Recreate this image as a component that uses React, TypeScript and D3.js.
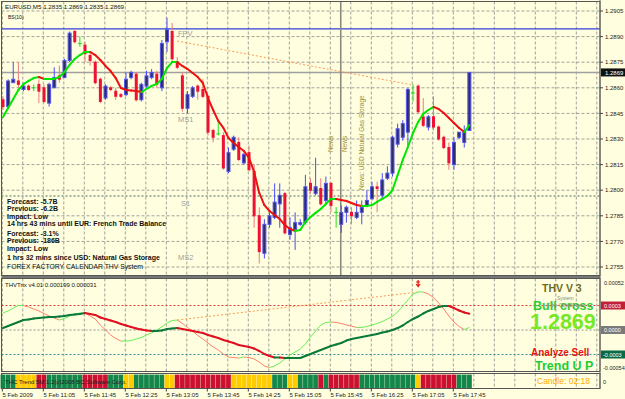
import React, { useEffect } from 'react';
import * as d3 from 'd3';

// ---------- DATA ----------
const timeLabels = ['5 Feb 2009', '5 Feb 11:05', '5 Feb 11:45', '5 Feb 12:25', '5 Feb 13:05', '5 Feb 13:45', '5 Feb 14:25', '5 Feb 15:05', '5 Feb 15:45', '5 Feb 16:25', '5 Feb 17:05', '5 Feb 17:45'];
const timeLabelBars = [0, 8, 16, 24, 32, 40, 48, 56, 64, 72, 80, 88];

const priceTicks = [1.2905, 1.2890, 1.2875, 1.2860, 1.2845, 1.2830, 1.2815, 1.2800, 1.2785, 1.2770, 1.2755];

const open = [1.2853, 1.2849, 1.2863, 1.2864, 1.2859, 1.2861, 1.2860, 1.2862, 1.2860, 1.2851, 1.2860, 1.2867, 1.2866, 1.2876, 1.2893, 1.2886, 1.2885, 1.2879, 1.2875, 1.2865, 1.2854, 1.2860, 1.2858, 1.2856, 1.2856, 1.2866, 1.2868, 1.2853, 1.2861, 1.2866, 1.2868, 1.2860, 1.2887, 1.2893, 1.2875, 1.2867, 1.2848, 1.2855, 1.2861, 1.2859, 1.2855, 1.2835, 1.2833, 1.2832, 1.2811, 1.2824, 1.2828, 1.2816, 1.2822, 1.2811, 1.2785, 1.2763, 1.2780, 1.2784, 1.2792, 1.2798, 1.2774, 1.2777, 1.2780, 1.2781, 1.2804, 1.2798, 1.2801, 1.2794, 1.2804, 1.2787, 1.2780, 1.2787, 1.2787, 1.2784, 1.2787, 1.2791, 1.2795, 1.2802, 1.2797, 1.2807, 1.2810, 1.2827, 1.2831, 1.2834, 1.2857, 1.2861, 1.2843, 1.2837, 1.2843, 1.2837, 1.2831, 1.2825, 1.2815, 1.2831, 1.2828, 1.2835];
const high = [1.2855, 1.2865, 1.2875, 1.2875, 1.2863, 1.2862, 1.2862, 1.2865, 1.2862, 1.2863, 1.2872, 1.2873, 1.2877, 1.2893, 1.2894, 1.2890, 1.2887, 1.2881, 1.2876, 1.2866, 1.2862, 1.2861, 1.2860, 1.2857, 1.2869, 1.2870, 1.2869, 1.2863, 1.2870, 1.2871, 1.2870, 1.2888, 1.2901, 1.2898, 1.2878, 1.2869, 1.2858, 1.2861, 1.2862, 1.2865, 1.2856, 1.2836, 1.2840, 1.2834, 1.2825, 1.2832, 1.2831, 1.2822, 1.2826, 1.2815, 1.2790, 1.2783, 1.2787, 1.2804, 1.2804, 1.2799, 1.2784, 1.2787, 1.2783, 1.2809, 1.2807, 1.2819, 1.2807, 1.2808, 1.2805, 1.2790, 1.2791, 1.2791, 1.2790, 1.2794, 1.2794, 1.2800, 1.2805, 1.2805, 1.2810, 1.2814, 1.2832, 1.2839, 1.2841, 1.2860, 1.2862, 1.2862, 1.2854, 1.2844, 1.2855, 1.2838, 1.2832, 1.2828, 1.2831, 1.2834, 1.2838, 1.2869];
const low = [1.2847, 1.2848, 1.2863, 1.2860, 1.2858, 1.2858, 1.2858, 1.2851, 1.2851, 1.2849, 1.2860, 1.2863, 1.2866, 1.2875, 1.2886, 1.2884, 1.2875, 1.2873, 1.2862, 1.2851, 1.2853, 1.2858, 1.2853, 1.2854, 1.2855, 1.2865, 1.2852, 1.2852, 1.2860, 1.2865, 1.2860, 1.2858, 1.2881, 1.2875, 1.2871, 1.2846, 1.2845, 1.2854, 1.2853, 1.2854, 1.2832, 1.2828, 1.2832, 1.2812, 1.2810, 1.2823, 1.2817, 1.2815, 1.2811, 1.2778, 1.2757, 1.2760, 1.2778, 1.2783, 1.2778, 1.2774, 1.2771, 1.2765, 1.2779, 1.2780, 1.2798, 1.2797, 1.2791, 1.2792, 1.2787, 1.2778, 1.2775, 1.2781, 1.2780, 1.2783, 1.2780, 1.2790, 1.2794, 1.2787, 1.2795, 1.2806, 1.2808, 1.2825, 1.2829, 1.2826, 1.2852, 1.2845, 1.2837, 1.2835, 1.2835, 1.2829, 1.2824, 1.2812, 1.2812, 1.2830, 1.2825, 1.2835];
const close = [1.2849, 1.2864, 1.2865, 1.2862, 1.2861, 1.2859, 1.2860, 1.2858, 1.2852, 1.2862, 1.2866, 1.2865, 1.2876, 1.2892, 1.2887, 1.2886, 1.2880, 1.2876, 1.2863, 1.2852, 1.2861, 1.2859, 1.2855, 1.2855, 1.2865, 1.2869, 1.2853, 1.2862, 1.2867, 1.2869, 1.2862, 1.2886, 1.2894, 1.2877, 1.2872, 1.2848, 1.2856, 1.2860, 1.2858, 1.2855, 1.2834, 1.2831, 1.2833, 1.2813, 1.2822, 1.2831, 1.2818, 1.2821, 1.2812, 1.2785, 1.2764, 1.2780, 1.2785, 1.2793, 1.2797, 1.2775, 1.2778, 1.2781, 1.2781, 1.2802, 1.2800, 1.2802, 1.2792, 1.2804, 1.2791, 1.2787, 1.2787, 1.2790, 1.2785, 1.2787, 1.2790, 1.2794, 1.2802, 1.2801, 1.2806, 1.2810, 1.2831, 1.2836, 1.2839, 1.2859, 1.2857, 1.2846, 1.2838, 1.2843, 1.2837, 1.2830, 1.2825, 1.2816, 1.2828, 1.2834, 1.2835, 1.2869];

const maValues = [1.28429, 1.28482, 1.28534, 1.28587, 1.28622, 1.28640, 1.28657, 1.28663, 1.28652, 1.28652, 1.28652, 1.28663, 1.28693, 1.28734, 1.28769, 1.28792, 1.28810, 1.28810, 1.28792, 1.28763, 1.28728, 1.28698, 1.28657, 1.28599, 1.28587, 1.28584, 1.28581, 1.28575, 1.28593, 1.28611, 1.28622, 1.28652, 1.28716, 1.28751, 1.28751, 1.28728, 1.28710, 1.28687, 1.28663, 1.28628, 1.28540, 1.28470, 1.28406, 1.28365, 1.28306, 1.28277, 1.28253, 1.28230, 1.28189, 1.28107, 1.27984, 1.27913, 1.27878, 1.27855, 1.27831, 1.27796, 1.27773, 1.27761, 1.27767, 1.27814, 1.27843, 1.27867, 1.27890, 1.27919, 1.27949, 1.27949, 1.27943, 1.27937, 1.27925, 1.27913, 1.27908, 1.27908, 1.27913, 1.27931, 1.27949, 1.27966, 1.28001, 1.28089, 1.28177, 1.28253, 1.28335, 1.28400, 1.28447, 1.28470, 1.28488, 1.28476, 1.28452, 1.28423, 1.28394, 1.28365, 1.28341, 1.28382];

// THVTrix values, in units of 1e-5
const trixFast = [20.8, 23.3, 26.9, 30.0, 30.0, 28.2, 25.7, 23.3, 20.2, 17.1, 14.7, 12.2, 14.1, 17.1, 19.6, 20.8, 20.8, 17.1, 13.5, 6.1, 0, -6.1, -10.4, -13.5, -13.5, -12.9, -11.0, -9.2, -6.1, -3.7, 0, 3.7, 8.6, 11.6, 12.2, 8.0, 3.1, -1.2, -6.7, -11.0, -15.9, -20.8, -24.5, -29.4, -33.1, -33.7, -34.3, -33.1, -33.7, -35.5, -39.2, -44.1, -45.9, -44.1, -40.4, -35.5, -30.6, -26.9, -23.3, -17.1, -8.6, -1.2, 6.1, 9.2, 9.8, 9.2, 8.0, 6.1, 4.9, 3.1, 3.1, 4.3, 6.1, 8.0, 10.4, 13.5, 16.5, 22.0, 29.4, 36.7, 44.1, 46.5, 46.5, 44.1, 39.8, 33.1, 25.7, 17.1, 9.8, 4.3, 0.6, 3.1];
const trixSignal = [2.4, 4.9, 7.3, 9.8, 12.2, 12.9, 14.1, 14.7, 15.3, 15.9, 15.9, 16.5, 17.1, 18.4, 19.0, 19.6, 20.8, 19.6, 18.4, 15.3, 13.5, 11.6, 9.8, 7.3, 5.5, 3.7, 1.8, 0.6, -0.6, -1.2, -1.2, -0.6, 1.2, 1.8, 2.4, 1.2, 0, -1.2, -2.4, -3.7, -6.1, -8.0, -9.8, -12.2, -14.1, -15.9, -18.4, -19.6, -20.8, -22.7, -25.7, -29.4, -31.8, -33.7, -33.7, -34.3, -34.3, -34.3, -34.3, -31.8, -29.4, -26.9, -24.5, -22.0, -19.6, -17.8, -15.9, -12.9, -11.0, -9.8, -8.6, -7.3, -6.1, -4.9, -3.1, -1.8, 0, 2.4, 5.5, 9.8, 13.5, 16.5, 20.2, 23.3, 25.7, 28.2, 29.4, 29.4, 26.9, 23.9, 21.4, 19.9];
const trixLevels = [30, 0, -30];

// trend strip per bar: G = up, Y = flat, R = down
const trendStates = 'GGGYYYYRRGGGGGGGRRRRRGGGYYGGGGGGYYRRRRRRRRRRRYYYYYYYYGGGYYGGGGRGRRRRRRGGGGGGGGGGGYRRRRRRRGGG';

const pricetrend = { bars: [34, 80], prices: [1.28874, 1.28616] };
const trixTrend = { bars: [34, 81], values: [12.2, 46.5] };
const blueLevel = 1.28945;
const s1Level = 1.27966;
const currentPrice = 1.2869;

const textBlock = [
  'Forecast: -5.7B',
  'Previous: -6.2B',
  'Impact: Low',
  '14 hrs 43 mins until EUR: French Trade Balance',
  'Forecast: -3.1%',
  'Previous: -186B',
  'Impact: Low',
  '1 hrs 32 mins since USD: Natural Gas Storage',
];

const FONT = 'Liberation Sans, Arial, sans-serif';

export default function App() {
  useEffect(() => {
    document.body.style.margin = '0';
  }, []);

  const n = open.length;
  const x = d3.scaleLinear().domain([0, 1]).range([3, 8.125]);
  const yP = d3.scaleLinear().domain([1.2755, 1.2905]).range([267, 11]);
  const yI = d3.scaleLinear().domain([-30, 30]).range([354.5, 305.5]);

  const L = 1.5, R = 600;
  const mainTop = 1.5, mainBot = 275.5;
  const indTop = 278.5, indBot = 371.5;
  const stripTop = 373.5, stripBot = 388.5;

  const bg = '#ffffe0';
  const gridColor = '#a0a098';

  const vGrid: number[] = [];
  for (let k = 0; ; k++) {
    const gx = x(4 * k) - 0.7;
    if (gx > R - 1) break;
    vGrid.push(gx);
  }

  const segColor = (arr: number[], i: number, up: string, down: string) => (arr[i + 1] >= arr[i] ? up : down);

  const maSegs = d3.range(n - 1).map(i => (
    <line key={'ma' + i} x1={x(i)} y1={yP(maValues[i])} x2={x(i + 1)} y2={yP(maValues[i + 1])}
      stroke={segColor(maValues, i, '#00e600', '#ee1111')} strokeWidth={2} strokeLinecap="round" />
  ));

  const fastSegs = d3.range(n - 1).map(i => (
    <line key={'tf' + i} x1={x(i)} y1={yI(trixFast[i])} x2={x(i + 1)} y2={yI(trixFast[i + 1])}
      stroke={segColor(trixFast, i, '#66ee55', '#ff7f6a')} strokeWidth={1} />
  ));
  const sigSegs = d3.range(n - 1).map(i => (
    <line key={'ts' + i} x1={x(i)} y1={yI(trixSignal[i])} x2={x(i + 1)} y2={yI(trixSignal[i + 1])}
      stroke={segColor(trixSignal, i, '#0a7a3a', '#e01020')} strokeWidth={2} strokeLinecap="round" />
  ));

  const candles = d3.range(n).map(i => {
    const cx = x(i);
    const o = open[i], c = close[i], h = high[i], l = low[i];
    if (Math.abs(o - c) < 1e-9) {
      return (
        <g key={'c' + i}>
          <line x1={cx} x2={cx} y1={yP(h)} y2={yP(l)} stroke="#22dd22" strokeWidth={1} />
          <line x1={cx - 2} x2={cx + 2} y1={yP(o)} y2={yP(o)} stroke="#22dd22" strokeWidth={1} />
        </g>
      );
    }
    const bull = c > o;
    const top = yP(Math.max(o, c)), bot = yP(Math.min(o, c));
    return bull ? (
      <g key={'c' + i}>
        <line x1={cx} x2={cx} y1={yP(h)} y2={yP(l)} stroke="#4a4aff" strokeWidth={1} />
        <rect x={cx - 1.5} y={top} width={3} height={Math.max(1, bot - top)} fill="#2e2e66" stroke="#5555ee" strokeWidth={1} />
      </g>
    ) : (
      <g key={'c' + i}>
        <line x1={cx} x2={cx} y1={yP(h)} y2={yP(l)} stroke="#f07a7a" strokeWidth={1} />
        <rect x={cx - 1.5} y={top - 0.5} width={3} height={Math.max(1, bot - top + 1)} fill="#ee1133" />
      </g>
    );
  });

  const stripColors: Record<string, string> = { G: '#13864a', Y: '#ffcc00', R: '#cc1030' };

  const hGridMain = priceTicks.map((p, i) => (
    <line key={'hg' + i} x1={L} x2={R} y1={yP(p)} y2={yP(p)} stroke={gridColor} strokeDasharray="3 2" strokeWidth={1} />
  ));
  const vGridPanel = (y1: number, y2: number, key: string) => vGrid.map((gx, i) => (
    <line key={key + i} x1={gx} x2={gx} y1={y1} y2={y2} stroke={gridColor} strokeDasharray="3 2" strokeWidth={1} />
  ));

  return (
    <svg width={625} height={399} style={{ position: 'absolute', left: 0, top: 0, display: 'block' }} fontFamily={FONT}>
      <rect x={0} y={0} width={625} height={399} fill={bg} />

      {/* ---------- MAIN PANEL ---------- */}
      {hGridMain}
      {vGridPanel(mainTop, mainBot, 'vgm')}

      {/* current price line */}
      <line x1={L} x2={R} y1={yP(currentPrice)} y2={yP(currentPrice)} stroke="#a0a0a0" strokeWidth={1.5} />
      {/* blue level line */}
      <line x1={L} x2={R} y1={yP(blueLevel)} y2={yP(blueLevel)} stroke="#3340dd" strokeWidth={1.2} />
      {/* S1 dashed */}
      <line x1={L} x2={R} y1={yP(s1Level)} y2={yP(s1Level)} stroke="#4a6a5a" strokeDasharray="2 2" strokeWidth={1} />
      {/* news vertical line */}
      <line x1={x(66) - 0.5} x2={x(66) - 0.5} y1={mainTop} y2={mainBot + 1} stroke="#8a8a80" strokeWidth={1.6} />

      {/* trend line */}
      <line x1={x(pricetrend.bars[0])} y1={yP(pricetrend.prices[0])} x2={x(pricetrend.bars[1])} y2={yP(pricetrend.prices[1])}
        stroke="#ff9a55" strokeWidth={1} strokeDasharray="2 2" />

      {candles}
      {maSegs}

      {/* labels */}
      <text x={5} y={9} fontSize={6.2} fill="#111">EURUSD,M5  1.2835 1.2869 1.2835 1.2869</text>
      <text x={8} y={19} fontSize={5} fill="#111">BS(10)</text>
      <text x={178} y={36} fontSize={7.5} fill="#a0a0a0">FPV</text>
      <text x={178} y={122} fontSize={7.5} fill="#a0a0a0">MS1</text>
      <text x={181} y={206} fontSize={7.5} fill="#a0a0a0">S1</text>
      <text x={178} y={260} fontSize={7.5} fill="#a0a0a0">MS2</text>

      <text transform={`translate(332.5,152) rotate(-90)`} fontSize={6.5} fill="#9c8c2c">News</text>
      <text transform={`translate(347,152) rotate(-90)`} fontSize={6.5} fill="#9c8c2c">News</text>
      <text transform={`translate(364,190) rotate(-90)`} fontSize={6.5} fill="#9c8c2c">News: USD Natural Gas Storage</text>

      {textBlock.map((t, i) => (
        <text key={'tb' + i} x={7} y={[203.5, 211, 218.5, 226, 235.5, 243, 250.5, 260][i]} fontSize={7} fontWeight="bold" fill="#111">{t}</text>
      ))}
      <text x={7} y={268.5} fontSize={6.8} fill="#111">FOREX FACTORY CALENDAR THV System</text>

      {/* ---------- INDICATOR PANEL ---------- */}
      {vGridPanel(indTop, indBot, 'vgi')}
      <line x1={L} x2={R} y1={yI(trixLevels[0])} y2={yI(trixLevels[0])} stroke="#d04040" strokeDasharray="2 2" />
      <line x1={L} x2={R} y1={yI(trixLevels[1])} y2={yI(trixLevels[1])} stroke="#909090" strokeDasharray="2 2" />
      <line x1={L} x2={R} y1={yI(trixLevels[2])} y2={yI(trixLevels[2])} stroke="#3a8a9a" strokeDasharray="2 2" />
      <line x1={x(trixTrend.bars[0])} y1={yI(trixTrend.values[0])} x2={x(trixTrend.bars[1])} y2={yI(trixTrend.values[1])}
        stroke="#ff9a55" strokeWidth={1} strokeDasharray="2 2" />
      {fastSegs}
      {sigSegs}
      <path d={`M${x(81) - 2},282 L${x(81) + 2},282 M${x(81)},280 L${x(81)},286 M${x(81) - 2},284 L${x(81)},286.5 L${x(81) + 2},284`} stroke="#e01010" strokeWidth={1.2} fill="none" />
      <text x={5} y={287} fontSize={6} fill="#111">THVTrix v4.01 0.000199 0.000031</text>

      <text x={542} y={292} fontSize={10.5} fontWeight="bold" fill="#6e6a22">THV V 3</text>
      <text x={557} y={300} fontSize={5} fill="#8a8a7a">System</text>
      <text x={533} y={310} fontSize={12.5} fontWeight="bold" fill="#33cc33">Bull cross</text>
      <text x={547} y={306.5} fontSize={5} fill="#8a8a7a">© by CobraForex</text>
      <text x={530} y={329} fontSize={21.5} fontWeight="bold" fill="#77e822">1.2869</text>
      <text x={531} y={355.5} fontSize={10} fontWeight="bold" fill="#ee1111">Analyze Sell</text>
      <text x={535} y={370} fontSize={12.5} fontWeight="bold" fill="#22cc33">Trend U P</text>

      {/* ---------- STRIP PANEL ---------- */}
      {vGridPanel(stripTop, stripBot, 'vgs')}
      {d3.range(n).map(i => (
        <rect key={'st' + i} x={x(i) - 2.56} y={stripTop + 1} width={5.125} height={stripBot - stripTop - 1}
          fill={stripColors[trendStates[i]]} stroke={bg} strokeOpacity={0.35} strokeWidth={0.6} />
      ))}
      <text x={5} y={383.5} fontSize={6} fill="#222">THC Trend 5M 1.2(c)2008 BC Software Corp.</text>
      <text x={537} y={384} fontSize={8.5} fill="#ffaa00">Candle:  02:18</text>

      {/* ---------- FRAMES ---------- */}
      <rect x={L} y={mainTop} width={R - L} height={mainBot - mainTop} fill="none" stroke="#555" strokeWidth={1} />
      <rect x={L} y={indTop} width={R - L} height={indBot - indTop} fill="none" stroke="#555" strokeWidth={1} />
      <rect x={L} y={stripTop} width={R - L} height={stripBot - stripTop} fill="none" stroke="#555" strokeWidth={1} />
      <line x1={L} x2={R} y1={mainBot + 1.5} y2={mainBot + 1.5} stroke="#777" strokeWidth={2} />
      <line x1={R} x2={R} y1={0} y2={stripBot} stroke="#666" strokeWidth={1} />

      {/* right price axis */}
      {priceTicks.map((p, i) => (
        <g key={'pt' + i}>
          <line x1={R} x2={R + 3} y1={yP(p)} y2={yP(p)} stroke="#444" />
          <text x={605} y={yP(p) + 2.2} fontSize={6} fill="#222">{p.toFixed(4)}</text>
        </g>
      ))}
      <rect x={R + 1} y={yP(currentPrice) - 4} width={24} height={8} fill="#111" />
      <text x={605} y={yP(currentPrice) + 2.2} fontSize={6} fill="#fff">{currentPrice.toFixed(4)}</text>

      {/* indicator axis */}
      <text x={604} y={285} fontSize={5.5} fill="#222">0.00052</text>
      <rect x={R + 1} y={yI(30) - 4} width={24} height={8} fill="#c0203a" />
      <text x={604} y={yI(30) + 2} fontSize={5.5} fill="#fff">0.0003</text>
      <rect x={R + 1} y={yI(0) - 4} width={24} height={8} fill="#7a7a7a" />
      <text x={604} y={yI(0) + 2} fontSize={5.5} fill="#fff">0.0000</text>
      <rect x={R + 1} y={yI(-30) - 4} width={24} height={8} fill="#0a6a45" />
      <text x={603} y={yI(-30) + 2} fontSize={5.5} fill="#fff">-0.0003</text>
      <text x={603} y={370} fontSize={5.5} fill="#222">-0.00054</text>
      <text x={603} y={384} fontSize={5.5} fill="#222">0</text>

      {/* time axis */}
      {timeLabelBars.map((b, i) => (
        <g key={'tl' + i}>
          <line x1={x(b) - 0.7} x2={x(b) - 0.7} y1={stripBot} y2={stripBot + 3} stroke="#444" />
          <text x={x(b) - 0.5} y={396.5} fontSize={6} fill="#222">{timeLabels[i]}</text>
        </g>
      ))}
    </svg>
  );
}
